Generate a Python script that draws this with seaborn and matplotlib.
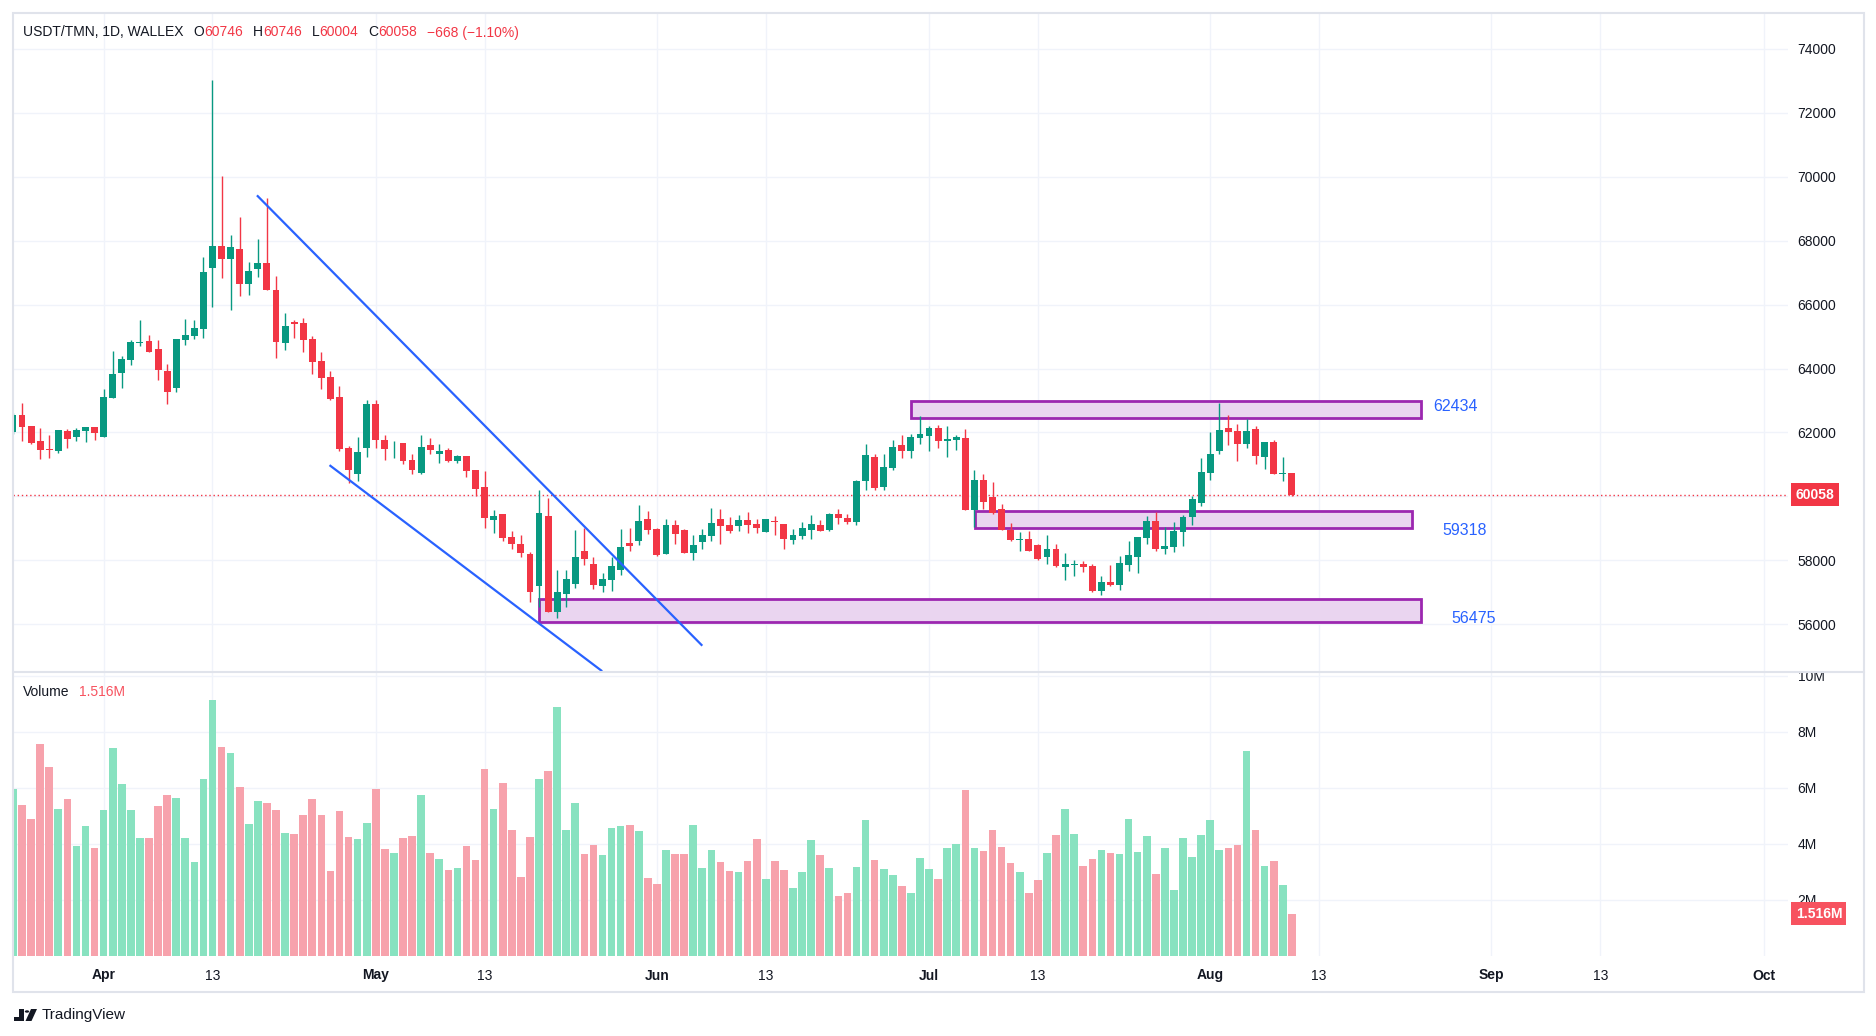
import numpy as np
import pandas as pd
import matplotlib
matplotlib.use("Agg")
import matplotlib.pyplot as plt
import matplotlib.transforms as mtransforms
from matplotlib.patches import Rectangle, Polygon, Circle
import seaborn as sns

# ---------- datos ----------
start_date = "2024-03-22"
ref_date = "2024-04-01"

open_ = [62020, 62540, 62200, 61730, 61480, 61430, 62040, 61865, 62052, 62167,
         61865, 63084, 63865, 64271, 64802, 64855, 64605, 63917, 63396, 64897,
         65022, 65240, 67147, 67825, 67429, 67731, 66647, 67116, 67293, 66449,
         64803, 65470, 65439, 64918, 64230, 63730, 63105, 61510, 60698, 61510,
         62886, 61760, 61500, 61667, 61135, 60729, 61604, 61323, 61448, 61104,
         61260, 60823, 60291, 59260, 59447, 58728, 58509, 58197, 57207, 59385,
         56394, 56957, 57270, 58290, 57884, 57207, 57395, 57707, 58541, 58613,
         59291, 58978, 58207, 59103, 58947, 58238, 58582, 58770, 59291, 59103,
         59082, 59260, 59135, 58895, 59228, 59135, 58645, 58770, 58957, 59103,
         58957, 59447, 59322, 59208, 60489, 61229, 60291, 60885, 61604, 61417,
         61823, 61885, 62135, 61740, 61760, 61823, 59572, 60510, 59978, 59603,
         58947, 58645, 58666, 58478, 58103, 58353, 57801, 57863, 57884, 57822,
         57040, 57322, 57228, 57853, 58103, 58697, 59228, 58363, 58416, 58884,
         59364, 59791, 60729, 61417, 62135, 62042, 61635, 62104, 61229, 61698,
         60705, 60746]
high = [62600, 62930, 62200, 62135, 61920, 62075, 62115, 62135, 62167, 62167,
        63375, 64542, 64386, 64907, 65511, 65043, 64886, 64136, 64917, 65543,
        65511, 67480, 73035, 70034, 68169, 68731, 67324, 68044, 69325, 66887,
        65730, 65511, 65574, 65011, 64511, 63917, 63448, 61573, 61854, 63011,
        63011, 61917, 61729, 61667, 61323, 61917, 61823, 61635, 61510, 61292,
        61260, 60823, 60792, 59573, 59447, 58916, 58791, 58259, 60197, 59947,
        57697, 57697, 58947, 59020, 58103, 57603, 58103, 58978, 59010, 59728,
        59541, 59020, 59291, 59260, 58978, 58791, 58978, 59635, 59604, 59353,
        59416, 59510, 59291, 59291, 59385, 59135, 58978, 59197, 59416, 59260,
        59478, 59604, 59447, 60510, 61635, 61323, 61323, 61760, 61917, 61948,
        62511, 62198, 62229, 62198, 61917, 62104, 60823, 60698, 60447, 59760,
        59166, 58884, 58916, 58509, 58791, 58509, 58228, 58010, 57978, 57884,
        57509, 57853, 58134, 58603, 58728, 59385, 59510, 59041, 59197, 59416,
        60010, 61198, 62010, 62927, 62542, 62260, 62417, 62198, 61698, 61760,
        61229, 60746]
low = [61950, 61730, 61625, 61180, 61210, 61365, 61520, 61730, 61698, 61760,
       61865, 63084, 63396, 64125, 64709, 64521, 63646, 62896, 63271, 64740,
       64928, 64959, 65928, 66835, 65834, 66272, 66303, 66866, 66460, 64334,
       64584, 64959, 64522, 63834, 63355, 63000, 61417, 60416, 60479, 61229,
       61510, 61135, 61198, 61010, 60698, 60698, 61323, 61042, 61073, 61042,
       60604, 60010, 59010, 58853, 58603, 58353, 58103, 56700, 56550, 56394,
       56207, 56550, 57144, 57863, 57103, 57020, 57051, 57551, 58301, 58489,
       58832, 58150, 58207, 58520, 58238, 58020, 58363, 58613, 58520, 58863,
       58926, 58863, 58863, 58895, 58801, 58363, 58520, 58676, 58676, 58926,
       58926, 59145, 59145, 59114, 60208, 60208, 60197, 60823, 61198, 61198,
       61635, 61417, 61510, 61229, 61448, 59572, 59051, 59603, 59447, 58947,
       58603, 58290, 58290, 58010, 57884, 57790, 57384, 57509, 57634, 57009,
       56915, 57197, 57071, 57665, 57603, 58510, 58290, 58197, 58259, 58447,
       59103, 59697, 60510, 61323, 61604, 61104, 61510, 61010, 60854, 60697,
       60479, 60004]
close = [62540, 62180, 61680, 61450, 61460, 62073, 61790, 62073, 62167, 61990,
         63105, 63823, 64292, 64823, 64823, 64521, 63959, 63271, 64917, 65043,
         65261, 67012, 67825, 67429, 67793, 66647, 67043, 67293, 66460, 64834,
         65345, 65397, 64897, 64209, 63698, 63042, 61479, 60823, 61385, 62886,
         61760, 61479, 61510, 61104, 60823, 61542, 61448, 61417, 61104, 61260,
         60791, 60229, 59322, 59385, 58697, 58509, 58228, 57009, 59478, 56394,
         57009, 57415, 58103, 58051, 57228, 57415, 57822, 58416, 58457, 59228,
         58957, 58176, 59103, 58832, 58238, 58478, 58790, 59166, 59082, 58926,
         59260, 59114, 59020, 59291, 59208, 58676, 58791, 59010, 59135, 58926,
         59447, 59333, 59208, 60479, 61291, 60270, 60916, 61542, 61417, 61854,
         61948, 62135, 61729, 61792, 61854, 59572, 60510, 59822, 59478, 58947,
         58634, 58666, 58290, 58041, 58353, 57822, 57884, 57884, 57801, 57040,
         57322, 57228, 57915, 58166, 58728, 59228, 58353, 58447, 58916, 59353,
         59916, 60760, 61323, 62073, 62021, 61635, 62042, 61260, 61698, 60697,
         60726, 60058]
volume_m = [5.95, 5.38, 4.88, 7.56, 6.74, 5.24, 5.60, 3.92, 4.63, 3.85,
            5.20, 7.42, 6.13, 5.20, 4.20, 4.20, 5.35, 5.74, 5.63, 4.20,
            3.35, 6.31, 9.13, 7.45, 7.24, 6.02, 4.70, 5.52, 5.45, 5.20,
            4.38, 4.35, 5.02, 5.60, 5.02, 3.02, 5.17, 4.24, 4.17, 4.74,
            5.95, 3.81, 3.67, 4.20, 4.27, 5.74, 3.67, 3.45, 3.06, 3.13,
            3.92, 3.42, 6.67, 5.24, 6.17, 4.49, 2.81, 4.24, 6.31, 6.60,
            8.88, 4.49, 5.45, 3.63, 3.95, 3.60, 4.56, 4.63, 4.67, 4.45,
            2.77, 2.56, 3.77, 3.63, 3.63, 4.67, 3.13, 3.77, 3.35, 3.02,
            2.99, 3.38, 4.17, 2.74, 3.38, 3.06, 2.42, 2.99, 4.13, 3.60,
            3.13, 2.13, 2.24, 3.17, 4.85, 3.42, 3.10, 2.88, 2.49, 2.24,
            3.49, 3.10, 2.74, 3.85, 3.99, 5.92, 3.85, 3.74, 4.49, 3.88,
            3.31, 2.99, 2.24, 2.70, 3.67, 4.31, 5.24, 4.35, 3.20, 3.45,
            3.77, 3.67, 3.63, 4.88, 3.70, 4.27, 2.92, 3.85, 2.35, 4.20,
            3.52, 4.31, 4.85, 3.77, 3.85, 3.95, 7.31, 4.49, 3.20, 3.38,
            2.52, 1.516]

# zonas (dias desde 1 abr, precios)
zone_start = [89.0, 96.1, 48.0]
zone_end = [145.2, 144.2, 145.2]
zone_low = [62456, 59009, 56081]
zone_high = [62988, 59550, 56791]
zone_label = ["62434", "59318", "56475"]
zone_label_x = [149.0, 150.0, 151.0]
zone_label_y = [62822, 58947, 56175]

# lineas del canal bajista
trend_x = [[16.9, 66.0], [24.9, 54.96]]
trend_y = [[69416, 55331], [60978, 54534]]

tick_dates = ["2024-04-01", "2024-04-13", "2024-05-01", "2024-05-13", "2024-06-01",
              "2024-06-13", "2024-07-01", "2024-07-13", "2024-08-01", "2024-08-13",
              "2024-09-01", "2024-09-13", "2024-10-01"]
tick_labels = ["Apr", "13", "May", "13", "Jun", "13", "Jul", "13", "Aug", "13",
               "Sep", "13", "Oct"]
price_ticks = list(range(56000, 76000, 2000))
vol_ticks = [2, 4, 6, 8, 10]

# ---------- estilo ----------
UP, DN = "#089981", "#f23645"
VUP, VDN = "#88e2c0", "#f7a2ac"
GRID = "#f0f3fa"
TXT = "#131722"
BORDER = "#e0e3eb"
W, H = 1876, 1036

sns.set_theme(style="white")
plt.rcParams['font.family'] = ['Liberation Sans', 'DejaVu Sans']

def fbox(l, t, r, b):
    return [l / W, 1 - b / H, (r - l) / W, (b - t) / H]

def fpt(x, y):
    return (x / W, 1 - y / H)

dates = pd.date_range(start_date, periods=len(close))
day = np.array((dates - pd.Timestamp(ref_date)).days)
tday = [(pd.Timestamp(d) - pd.Timestamp(ref_date)).days for d in tick_dates]
o, h, l, c = map(np.array, (open_, high, low, close))
up = c >= o

fig = plt.figure(figsize=(W / 100, H / 100), dpi=100)
fig.patch.set_facecolor("white")
axp = fig.add_axes(fbox(12.5, 12.5, 1788, 672))
axv = fig.add_axes(fbox(12.5, 672, 1788, 956))
xlim = (-10.05, 185.7)

for ax in (axp, axv):
    ax.set_facecolor("white")
    for s in ax.spines.values():
        s.set_visible(False)
    ax.set_xticks(tday)
    ax.grid(True, color=GRID, lw=1)
    ax.set_axisbelow(True)

# ---------- precio ----------
col = np.where(up, UP, DN)
axp.vlines(day, l, h, colors=col, lw=1.0, zorder=3)
axp.bar(day, np.maximum(np.abs(c - o), 25), bottom=np.minimum(o, c), width=0.76,
        color=col, lw=0, zorder=4)
for x0, x1, lo, hi in zip(zone_start, zone_end, zone_low, zone_high):
    axp.add_patch(Rectangle((x0, lo), x1 - x0, hi - lo, fc="#ead5f0", ec="#9c27b0",
                            lw=2, zorder=2))
for tx, tyv in zip(trend_x, trend_y):
    axp.plot(tx, tyv, color="#2962ff", lw=1.6, zorder=5, solid_capstyle="butt")
for lab, lx, ly in zip(zone_label, zone_label_x, zone_label_y):
    axp.text(lx, ly, lab, color="#2962ff", fontsize=11.5, ha="center", va="center")
axp.axhline(c[-1], color=DN, lw=1, ls=(0, (1, 2)), zorder=1.5)

axp.set_xlim(*xlim)
axp.set_ylim(54509, 75134)
axp.set_yticks(price_ticks)
axp.set_yticklabels([str(v) for v in price_ticks])
axp.yaxis.tick_right()
axp.tick_params(axis="y", length=0, pad=7, labelsize=10, labelcolor=TXT)
axp.tick_params(axis="x", length=0, labelbottom=False)
blend_p = mtransforms.blended_transform_factory(axp.transAxes, axp.transData)
axp.annotate(str(c[-1]), xy=(1, c[-1]), xycoords=blend_p, xytext=(5.5, 0),
             textcoords="offset points", ha="left", va="center", color="white",
             fontsize=10, fontweight="bold", annotation_clip=False,
             bbox=dict(boxstyle="square,pad=0.3", fc=DN, ec="none"))

# ---------- volumen ----------
df = pd.DataFrame({"day": day, "vol": volume_m, "dir": np.where(up, "up", "down")})
sns.barplot(data=df, x="day", y="vol", hue="dir", palette={"up": VUP, "down": VDN},
            native_scale=True, dodge=False, width=0.84, saturation=1, linewidth=0,
            errorbar=None, legend=False, ax=axv)
axv.set_xlabel("")
axv.set_ylabel("")
axv.set_xlim(*xlim)
axv.set_ylim(0, 10.14)
axv.set_xticks(tday)
axv.set_xticklabels(tick_labels)
for lbl, txt in zip(axv.get_xticklabels(), tick_labels):
    if not txt.isdigit():
        lbl.set_fontweight("bold")
axv.tick_params(axis="x", length=0, pad=9, labelsize=10, labelcolor=TXT)
axv.set_yticks(vol_ticks)
axv.set_yticklabels([f"{v}M" for v in vol_ticks])
axv.yaxis.tick_right()
axv.tick_params(axis="y", length=0, pad=7, labelsize=10, labelcolor=TXT)
blend_v = mtransforms.blended_transform_factory(axv.transAxes, axv.transData)
axv.annotate(f"{volume_m[-1]:.3f}M", xy=(1, volume_m[-1]), xycoords=blend_v,
             xytext=(5.5, 0), textcoords="offset points", ha="left", va="center",
             color="white", fontsize=10, fontweight="bold", annotation_clip=False,
             bbox=dict(boxstyle="square,pad=0.3", fc="#f7525f", ec="none"), zorder=6)

# marco, separador y mascara de la etiqueta 10M
fig.patches.append(Rectangle((1789 / W, 1 - 672.5 / H), 73 / W, 16 / H,
                             transform=fig.transFigure, fc="white", ec="none", zorder=5))
fig.patches.append(Rectangle((12.5 / W, 1 - 991.5 / H), 1851 / W, 979 / H,
                             transform=fig.transFigure, fill=False, ec=BORDER, lw=1.5, zorder=6))
fig.add_artist(plt.Line2D([12.5 / W, 1863.5 / W], [1 - 672 / H] * 2,
                          transform=fig.transFigure, color=BORDER, lw=1.5, zorder=6))

# ---------- textos ----------
renderer = fig.canvas.get_renderer()

def texto_multicolor(x, y, partes, size=10):
    for s, colr, gap in partes:
        t = fig.text(x / W, 1 - y / H, s, color=colr, fontsize=size, ha="left", va="center")
        x += t.get_window_extent(renderer).width + gap

chg = c[-1] - c[-2]
pct = chg / c[-2] * 100
texto_multicolor(23, 32.5, [
    ("USDT/TMN, 1D, WALLEX", TXT, 10),
    ("O", TXT, 0), (str(o[-1]), DN, 10),
    ("H", TXT, 0), (str(h[-1]), DN, 10),
    ("L", TXT, 0), (str(l[-1]), DN, 10),
    ("C", TXT, 0), (str(c[-1]), DN, 10),
    (f"\u2212{abs(chg)} (\u2212{abs(pct):.2f}%)", DN, 0),
])
texto_multicolor(23, 692.5, [("Volume", TXT, 9), (f"{volume_m[-1]:.3f}M", "#f7525f", 0)])

# logo TradingView aproximado
fig.patches.append(Rectangle(fpt(14, 1021), 10 / W, 4 / H, transform=fig.transFigure,
                             fc=TXT, ec="none"))
fig.patches.append(Rectangle(fpt(19, 1021), 4.5 / W, 12 / H, transform=fig.transFigure,
                             fc=TXT, ec="none"))
fig.patches.append(Circle(fpt(27, 1011.5), 2.2 / W, transform=fig.transFigure,
                          fc=TXT, ec="none"))
fig.patches.append(Polygon([fpt(31, 1009), fpt(37, 1009), fpt(31.5, 1021), fpt(25.5, 1021)],
                           closed=True, transform=fig.transFigure, fc=TXT, ec="none"))
fig.text(42 / W, 1 - 1015 / H, "TradingView", fontsize=11, color=TXT, ha="left", va="center")

fig.savefig("out.png", dpi=100, facecolor="white")
